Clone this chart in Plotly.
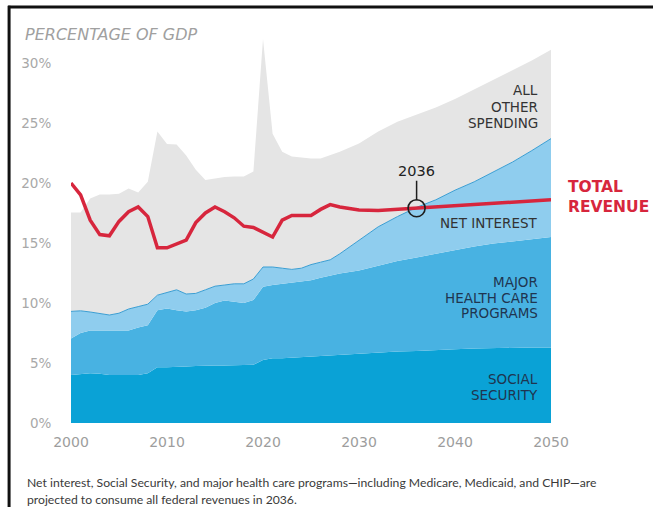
import plotly.graph_objects as go

# Federal outlays and revenues, percentage of GDP
years = list(range(2000, 2028)) + [2028, 2030, 2032, 2034, 2036, 2038, 2040,
                                   2042, 2044, 2046, 2048, 2050]

social_security = [4.0, 4.05, 4.15, 4.1, 4.0, 4.0, 4.0, 4.0, 4.15, 4.65,
                   4.65, 4.65, 4.7, 4.75, 4.8, 4.8, 4.8, 4.8, 4.8, 4.85,
                   5.25, 5.4, 5.4, 5.45, 5.5, 5.55, 5.6, 5.65,
                   5.7, 5.75, 5.85, 5.95, 6.0, 6.1, 6.15, 6.2, 6.25, 6.27, 6.3, 6.3]

health_care = [3.05, 3.45, 3.55, 3.6, 3.7, 3.65, 3.7, 3.95, 4.0, 4.75,
               4.9, 4.75, 4.6, 4.65, 4.8, 5.2, 5.4, 5.3, 5.2, 5.4,
               6.1, 6.1, 6.2, 6.2, 6.25, 6.35, 6.5, 6.65,
               6.75, 6.95, 7.25, 7.55, 7.8, 8.0, 8.3, 8.5, 8.7, 8.88, 9.05, 9.2]

net_interest = [2.25, 1.85, 1.55, 1.4, 1.3, 1.5, 1.8, 1.75, 1.75, 1.25,
                1.3, 1.7, 1.45, 1.4, 1.5, 1.4, 1.3, 1.5, 1.6, 1.75,
                1.65, 1.5, 1.3, 1.15, 1.15, 1.3, 1.3, 1.3,
                1.65, 2.55, 3.25, 3.7, 4.17, 4.5, 4.95, 5.4, 5.95, 6.6, 7.35, 8.2]

other_spending = [8.25, 8.2, 9.45, 9.95, 10.05, 9.95, 10.05, 9.5, 10.2, 13.65,
                  12.4, 12.1, 11.55, 10.3, 9.15, 9.0, 9.0, 8.95, 8.95, 8.95,
                  19.0, 11.1, 9.7, 9.4, 9.2, 8.85, 8.65, 8.7,
                  8.5, 8.05, 7.95, 7.9, 7.73, 7.7, 7.6, 7.7, 7.7, 7.65, 7.5, 7.4]

total_revenue = [20.0, 19.0, 16.9, 15.7, 15.6, 16.8, 17.6, 18.0, 17.2, 14.6,
                 14.6, 14.9, 15.25, 16.7, 17.5, 18.0, 17.6, 17.1, 16.4, 16.3,
                 15.9, 15.5, 16.9, 17.3, 17.3, 17.3, 17.8, 18.2,
                 18.0, 17.75, 17.7, 17.8, 17.9, 18.0, 18.1, 18.2, 18.3, 18.4, 18.5, 18.6]

crossover_year = 2036

x_ticks = [2000, 2010, 2020, 2030, 2040, 2050]
y_ticks = [0, 5, 10, 15, 20, 25, 30]

RED = "#d7263d"
SANS = "DejaVu Sans"
CAPTION_FONT = "Lato"

fig = go.Figure()

layers = [
    ("Social Security", social_security, "#0aa2d6", 0, "#0aa2d6"),
    ("Major health care programs", health_care, "#48b2e2", 0, "#48b2e2"),
    ("Net interest", net_interest, "#8fcdee", 1, "#3a9ed3"),
    ("All other spending", other_spending, "#e5e5e5", 0, "#e5e5e5"),
]
for name, vals, fill, lw, lc in layers:
    fig.add_trace(go.Scatter(
        x=years, y=vals, name=name, mode="lines",
        stackgroup="outlays", fillcolor=fill,
        line=dict(width=lw, color=lc),
        hoverinfo="skip",
    ))

fig.add_trace(go.Scatter(
    x=years, y=total_revenue, name="Total revenue", mode="lines",
    line=dict(color=RED, width=3.5), hoverinfo="skip",
))

rev_at_cross = total_revenue[years.index(crossover_year)]
fig.add_trace(go.Scatter(
    x=[crossover_year], y=[rev_at_cross], mode="markers",
    marker=dict(symbol="circle-open", size=17, color="#1e1e1e",
                line=dict(width=1.6, color="#1e1e1e")),
    hoverinfo="skip",
))

annotations = [
    dict(x=crossover_year, y=rev_at_cross, xref="x", yref="y",
         text=str(crossover_year), showarrow=True, arrowhead=0,
         arrowwidth=1.5, arrowcolor="#1e1e1e", ax=0, ay=-37, standoff=8,
         font=dict(family=SANS, size=14.5, color="#222")),
]


def stacked_label(lines, x, y, step, xref="x", yref="y", xanchor="right",
                  font=None):
    """Add one annotation per text line, stepping down by `step` pixels."""
    for i, line in enumerate(lines):
        annotations.append(dict(
            x=x, y=y, xref=xref, yref=yref, xanchor=xanchor, yanchor="middle",
            yshift=-i * step, text=line, showarrow=False, font=font,
        ))


label_x = 2048.85
dark = dict(family=SANS, size=13.5, color="#333333")
navy = dict(family=SANS, size=13.5, color="#1f3550")

stacked_label(["ALL", "OTHER", "SPENDING"], label_x, 27.75, 16.5, font=dark)
stacked_label(["NET INTEREST"], label_x, 16.67, 16, font=dark)
stacked_label(["MAJOR", "HEALTH CARE", "PROGRAMS"], label_x, 11.75, 15.5, font=navy)
stacked_label(["SOCIAL", "SECURITY"], label_x, 3.67, 16, font=navy)
stacked_label(["<b>TOTAL</b>", "<b>REVENUE</b>"], 1.031, 0.605, 20,
              xref="paper", yref="paper", xanchor="left",
              font=dict(family=SANS, size=15.5, color=RED))
stacked_label(["<i>PERCENTAGE OF GDP</i>"], -0.1, 0.995, 0,
              xref="paper", yref="paper", xanchor="left",
              font=dict(family=SANS, size=16, color="#a0a0a0"))
stacked_label(["Net interest, Social Security, and major health care programs\u2014including "
               "Medicare, Medicaid, and CHIP\u2014are",
               "projected to consume all federal revenues in 2036."],
              -0.096, -0.1513, 17, xref="paper", yref="paper", xanchor="left",
              font=dict(family=CAPTION_FONT, size=12.2, color="#3a3a3a"))

# Outer frame along the top and left edges
shapes = [
    dict(type="line", xref="paper", yref="paper", x0=-0.131, x1=1.3,
         y0=1.0667, y1=1.0667, line=dict(color="#111", width=3)),
    dict(type="line", xref="paper", yref="paper", x0=-0.129, x1=-0.129,
         y0=1.07, y1=-0.3, line=dict(color="#111", width=3)),
]

fig.update_layout(
    width=653, height=507,
    margin=dict(l=71, r=102, t=33, b=84),
    paper_bgcolor="white", plot_bgcolor="white",
    showlegend=False,
    font=dict(family=SANS),
    annotations=annotations,
    shapes=shapes,
    xaxis=dict(range=[2000, 2050], tickvals=x_ticks,
               ticktext=[str(v) for v in x_ticks],
               showgrid=False, zeroline=False, showline=False,
               ticks="outside", ticklen=6, tickcolor="rgba(0,0,0,0)",
               tickfont=dict(family=SANS, size=14, color="#9d9d9d")),
    yaxis=dict(range=[0, 32.5], tickvals=y_ticks,
               ticktext=[f"{v}%" for v in y_ticks],
               showgrid=False, zeroline=False, showline=False,
               ticks="outside", ticklen=16, tickcolor="rgba(0,0,0,0)",
               tickfont=dict(family=SANS, size=13.5, color="#a8a8a8")),
)

fig.write_html("out.html")
